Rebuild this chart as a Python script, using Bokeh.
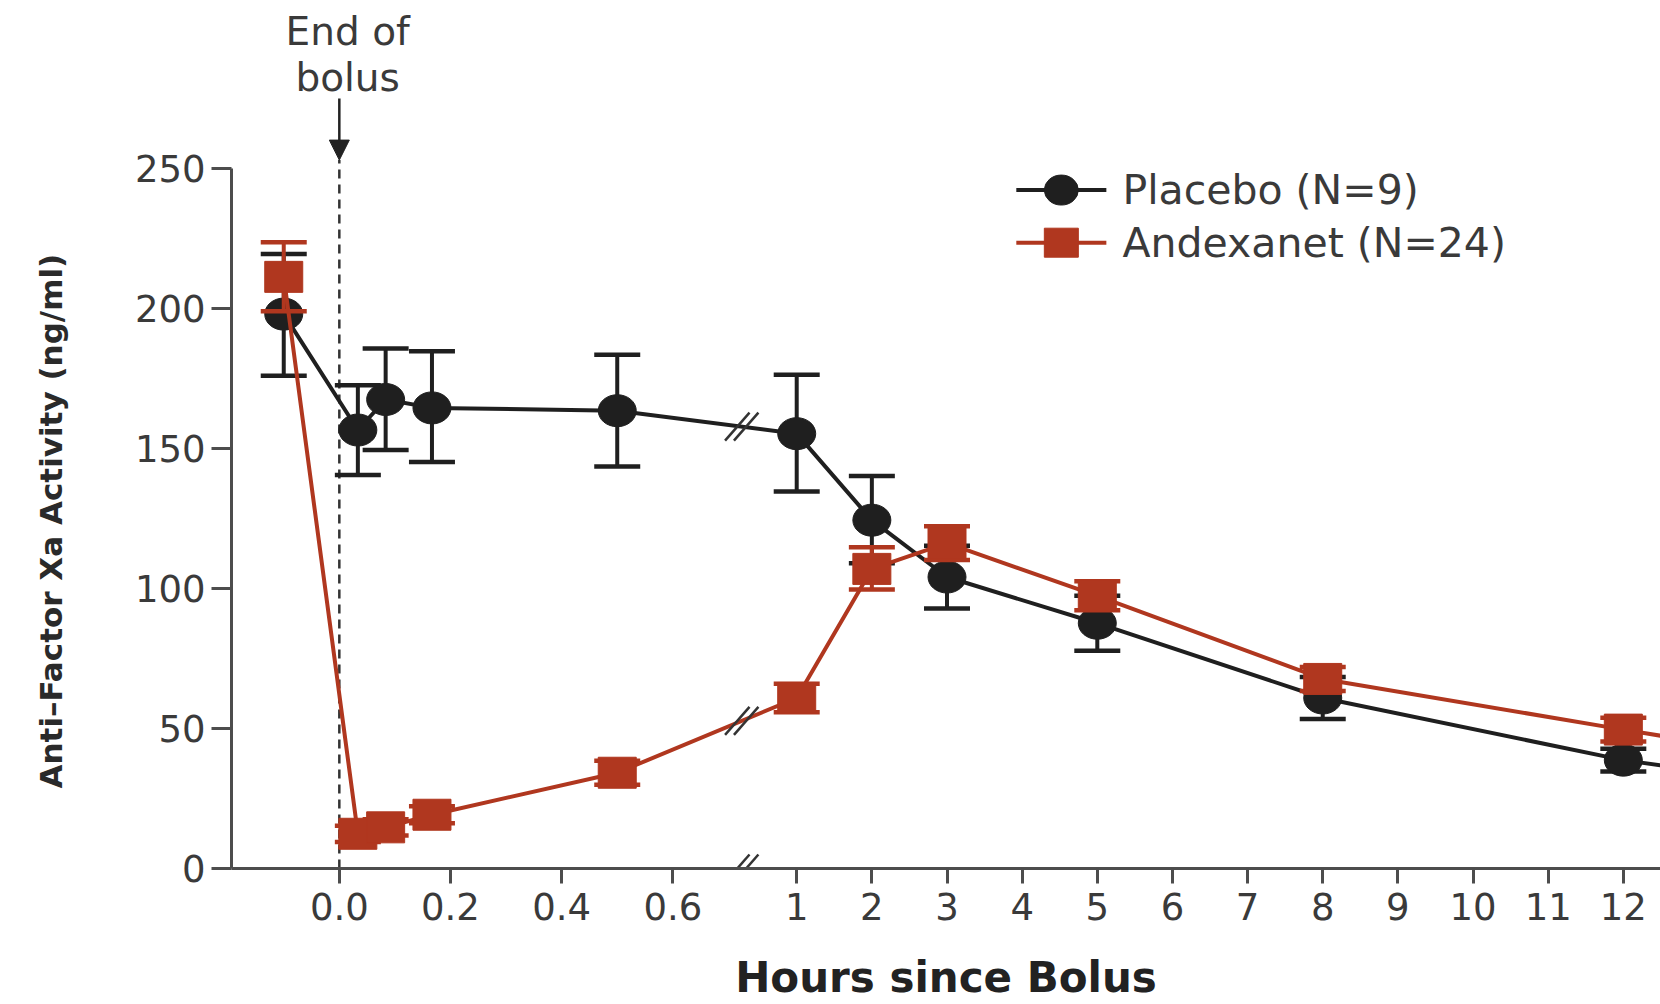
import math
import numpy as np
from bokeh.plotting import figure
from bokeh.models import FixedTicker, Title, Arrow, NormalHead, Range1d, ColumnDataSource
from bokeh.core.properties import value
from bokeh.embed import file_html
from bokeh.resources import INLINE

# ---------------- data ----------------
hours = [-0.1, 2 / 60, 5 / 60, 10 / 60, 0.5, 1, 2, 3, 5, 8, 12, 24]
placebo_mean = [198.0, 156.6, 167.5, 164.5, 163.5, 155.3, 124.4, 104.1, 87.6, 60.9, 38.7, 33.0]
placebo_lo = [176.0, 140.5, 149.5, 145.2, 143.6, 134.6, 109.0, 92.9, 77.8, 53.4, 34.6, 29.0]
placebo_hi = [219.5, 172.6, 185.7, 184.7, 183.5, 176.3, 140.2, 115.3, 97.4, 68.4, 42.8, 37.0]
andex_mean = [211.3, 12.4, 14.7, 19.2, 34.2, 60.9, 107.0, 116.2, 97.4, 67.7, 49.6, 43.0]
andex_lo = [199.0, 9.5, 11.8, 16.2, 29.9, 55.8, 99.6, 110.2, 92.2, 63.4, 45.4, 39.0]
andex_hi = [223.7, 15.3, 17.6, 22.2, 38.5, 66.0, 114.7, 122.2, 102.6, 72.0, 53.8, 47.0]

x_tick_hours = [0.0, 0.2, 0.4, 0.6, 1, 2, 3, 4, 5, 6, 7, 8, 9, 10, 11, 12]
x_tick_labels = ["0.0", "0.2", "0.4", "0.6", "1", "2", "3", "4", "5", "6", "7", "8", "9", "10", "11", "12"]
y_ticks = [0, 50, 100, 150, 200, 250]

series_names = ["Placebo (N=9)", "Andexanet (N=24)"]

# ---------------- broken-axis mapping ----------------
SEG2_START = 0.8229   # axis position of 1 h
SEG2_SCALE = 0.1352   # axis units per hour after the break
BREAK_POS = 0.724     # axis position of the // marks


def to_axis(h):
    if h <= 0.7:
        return h
    if h <= 12.5:
        return SEG2_START + (h - 1) * SEG2_SCALE
    return SEG2_START + 12.5 * SEG2_SCALE  # after a further (off-chart) break


xs = [to_axis(h) for h in hours]

BLACK = "#1f1f1f"
RED = "#b0371f"
AXIS = "#4d4d4d"
TXT = "#3a3a3a"
FONT = "DejaVu Sans"

p = figure(width=1660, height=1004, output_backend="svg", toolbar_location=None,
           x_range=Range1d(-0.194, 2.377), y_range=Range1d(0, 310),
           min_border_left=231, min_border_right=0, min_border_top=0, min_border_bottom=131)
p.outline_line_color = None
p.grid.visible = False
p.background_fill_color = "white"
p.border_fill_color = "white"

# axes
ticks = [round(to_axis(h), 6) for h in x_tick_hours]
p.xaxis.ticker = FixedTicker(ticks=ticks)
p.xaxis.major_label_overrides = {t: l for t, l in zip(ticks, x_tick_labels)}
p.yaxis.ticker = FixedTicker(ticks=y_ticks)
p.yaxis.bounds = (0, 250)
for ax in (p.xaxis[0], p.yaxis[0]):
    ax.axis_line_color = AXIS
    ax.axis_line_width = 3
    ax.major_tick_line_color = AXIS
    ax.major_tick_line_width = 3
    ax.major_tick_in = 0
    ax.minor_tick_line_color = None
    ax.major_label_text_font = FONT
    ax.major_label_text_font_size = "37px"
    ax.major_label_text_color = TXT
p.xaxis.major_tick_out = 15
p.xaxis.major_label_standoff = 9
p.yaxis.major_tick_out = 20
p.yaxis.major_label_standoff = 6
# blank spacer label so that the rotated title sits at the far left
p.yaxis.axis_label = " "
p.yaxis.axis_label_text_font_size = "10px"
p.yaxis.axis_label_standoff = 22
p.xaxis.axis_label = "Hours since Bolus"
p.xaxis.axis_label_text_font = FONT
p.xaxis.axis_label_text_font_style = "bold"
p.xaxis.axis_label_text_font_size = "42px"
p.xaxis.axis_label_text_line_height = 0.6
p.xaxis.axis_label_text_color = "#222222"
p.xaxis.axis_label_standoff = 30

p.add_layout(Title(text="Anti\u2013Factor Xa Activity (ng/ml)", align="left", offset=80, standoff=53,
                   text_font=FONT, text_font_size="31px", text_font_style="bold",
                   text_color="#2a2a2a"), "left")

# end of bolus marker
p.segment(x0=[0], y0=[0], x1=[0], y1=[253], line_color="#333333", line_width=2.5, line_dash="9 6")
p.add_layout(Arrow(end=NormalHead(size=20, fill_color="#222222", line_color="#222222"),
                   x_start=0, y_start=275, x_end=0, y_end=253, line_color="#222222", line_width=2.5))
p.text(x=[0.015, 0.015], y=[299, 282.5], text=["End of", "bolus"], text_align="center",
       text_baseline="middle", text_font=value(FONT), text_font_size="39px", text_color=TXT)

# series
cap = 46
for name, m, lo, hi, col, marker in [
        (series_names[0], placebo_mean, placebo_lo, placebo_hi, BLACK, "ellipse"),
        (series_names[1], andex_mean, andex_lo, andex_hi, RED, "rect")]:
    src = ColumnDataSource(dict(x=xs, m=m, lo=lo, hi=hi))
    p.line("x", "m", source=src, line_color=col, line_width=4)
    p.segment(x0="x", y0="lo", x1="x", y1="hi", source=src, line_color=col, line_width=4)
    p.scatter("x", "lo", source=src, marker="dash", size=cap, line_color=col, line_width=4.5)
    p.scatter("x", "hi", source=src, marker="dash", size=cap, line_color=col, line_width=4.5)
    if marker == "ellipse":
        p.ellipse("x", "m", source=src, width=38, height=32, width_units="screen",
                  height_units="screen", fill_color=col, line_color=col)
    else:
        p.rect("x", "m", source=src, width=38, height=31, width_units="screen",
               height_units="screen", fill_color=col, line_color=col)

# break marks on the x axis and on each line
bdx, bdy, gap = 0.022, 5.0, 0.016
for yb in [0.0, float(np.interp(BREAK_POS, xs, placebo_mean)), float(np.interp(BREAK_POS, xs, andex_mean))]:
    p.segment(x0=[BREAK_POS - bdx - gap / 2, BREAK_POS - bdx + gap / 2],
              y0=[yb - bdy, yb - bdy],
              x1=[BREAK_POS + bdx - gap / 2, BREAK_POS + bdx + gap / 2],
              y1=[yb + bdy, yb + bdy], line_color="#333333", line_width=2.5)

# legend (drawn by hand for a large key)
LEG_X0, LEG_X1, LEG_TX = 1.218, 1.380, 1.409
for name, col, marker, yy in [(series_names[0], BLACK, "ellipse", 242.3),
                              (series_names[1], RED, "rect", 223.5)]:
    p.segment(x0=[LEG_X0], y0=[yy], x1=[LEG_X1], y1=[yy], line_color=col, line_width=4)
    if marker == "ellipse":
        p.ellipse([(LEG_X0 + LEG_X1) / 2], [yy], width=34, height=30, width_units="screen",
                  height_units="screen", fill_color=col, line_color=col)
    else:
        p.rect([(LEG_X0 + LEG_X1) / 2], [yy], width=34, height=29, width_units="screen",
               height_units="screen", fill_color=col, line_color=col)
    p.text(x=[LEG_TX], y=[yy], text=[name], text_baseline="middle", text_font=value(FONT),
           text_font_size="41px", text_color=TXT)

open("out.html", "w").write(file_html(p, INLINE))
